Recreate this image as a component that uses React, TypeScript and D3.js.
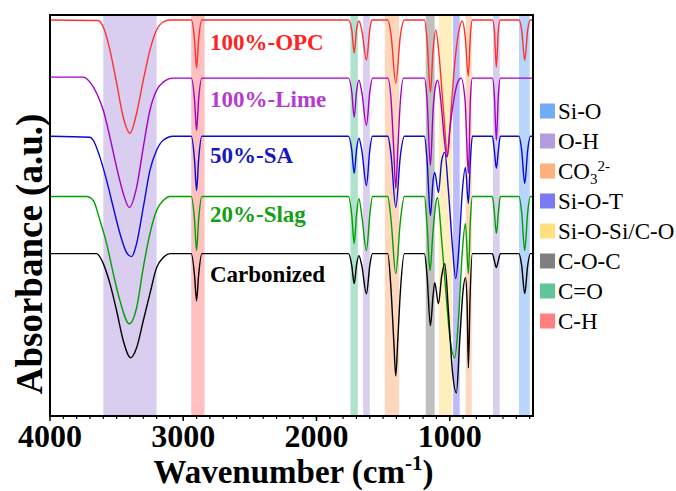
import React from 'react';
import * as d3 from 'd3';

// ---------- data ----------
const xTicks = [4000, 3000, 2000, 1000];
const xMinorTicks = d3.range(3900, 375, -100);

const bandLabels = ['Si-O', 'O-H', 'CO3', 'Si-O-T', 'Si-O-Si/C-O', 'C-O-C', 'C=O', 'C-H'];
const bandColors = ['#72acf8', '#b39ddf', '#ffb07c', '#7c79f4', '#ffdf7e', '#7f7f7f', '#5ec699', '#ff8080'];
const bandRanges: [string, number, number][] = [
  ['O-H', 3600, 3200], ['C-H', 2940, 2840], ['C=O', 1745, 1690], ['O-H', 1650, 1600],
  ['CO3', 1487, 1380], ['C-O-C', 1180, 1113], ['Si-O-Si/C-O', 1083, 983], ['Si-O-T', 975, 925],
  ['CO3', 880, 835], ['O-H', 675, 625], ['Si-O', 480, 400],
];

const seriesNames = ['100%-OPC', '100%-Lime', '50%-SA', '20%-Slag', 'Carbonized'];
const lineColors = ['#ff3030', '#a400c4', '#0a0ad8', '#00a000', '#000000'];
const labelColors = ['#ff2424', '#b43cd2', '#1818c0', '#14a014', '#000000'];

const opc: [number, number][] = [
  [4000, 395], [3640, 394.5], [3600, 388], [3550, 365], [3500, 332], [3450, 298], [3400, 282], [3350, 302],
  [3300, 335], [3250, 365], [3200, 385], [3150, 393], [3100, 395], [2940, 395], [2915, 375], [2900, 347],
  [2885, 375], [2860, 395], [1760, 395], [1735, 385], [1717, 362], [1700, 385], [1682, 394], [1660, 385],
  [1625, 355], [1600, 385], [1585, 395], [1465, 395], [1440, 380], [1405, 332], [1370, 380], [1340, 395],
  [1190, 395], [1170, 375], [1145, 323], [1125, 365], [1105, 385], [1080, 360], [1050, 310], [1015, 260],
  [990, 305], [960, 355], [930, 385], [905, 394], [885, 380], [860, 339], [845, 380], [830, 395],
  [680, 395], [665, 385], [650, 348], [635, 385], [620, 395], [480, 395], [460, 385], [437, 355],
  [415, 385], [395, 395], [375, 395],
];
const lime: [number, number][] = [
  [4000, 338], [3750, 338], [3700, 333], [3650, 322], [3600, 305], [3550, 278], [3500, 248], [3450, 222],
  [3405, 208], [3350, 228], [3300, 268], [3250, 305], [3200, 325], [3150, 333], [3075, 337], [2940, 337],
  [2915, 315], [2900, 285], [2885, 315], [2860, 337], [1760, 337], [1735, 323], [1717, 298], [1700, 323],
  [1682, 335], [1660, 323], [1625, 290], [1600, 323], [1580, 337], [1465, 337], [1440, 315], [1420, 265],
  [1405, 227], [1390, 265], [1370, 315], [1345, 337], [1190, 337], [1170, 315], [1145, 250], [1125, 305],
  [1100, 333], [1090, 335], [1060, 305], [1040, 275], [1020, 258], [1000, 285], [970, 315], [940, 333],
  [915, 337], [885, 315], [860, 242], [845, 315], [830, 337], [680, 337], [665, 320], [650, 275],
  [635, 320], [620, 337], [375, 337],
];
const sa: [number, number][] = [
  [4000, 279], [3700, 278], [3675, 275], [3625, 258], [3575, 235], [3525, 208], [3475, 182], [3425, 163],
  [3387, 159], [3350, 172], [3300, 208], [3250, 245], [3200, 265], [3150, 275], [3075, 279], [2940, 279],
  [2915, 255], [2900, 225], [2885, 255], [2860, 279], [1760, 279], [1735, 265], [1717, 242], [1700, 265],
  [1682, 277], [1660, 265], [1625, 230], [1600, 265], [1580, 279], [1465, 279], [1440, 260], [1405, 208],
  [1370, 260], [1340, 279], [1190, 279], [1170, 255], [1145, 200], [1125, 235], [1112, 243], [1085, 223],
  [1060, 255], [1037, 263], [1010, 225], [980, 170], [955, 137], [930, 170], [905, 225], [882, 248],
  [860, 212], [845, 255], [830, 279], [680, 279], [665, 265], [650, 247], [635, 265], [620, 279],
  [480, 279], [460, 265], [437, 232], [415, 265], [395, 279], [375, 279],
];
const slag: [number, number][] = [
  [4000, 219], [3725, 219], [3675, 215], [3625, 195], [3575, 172], [3525, 142], [3475, 115], [3405, 92],
  [3350, 108], [3300, 148], [3250, 182], [3200, 205], [3150, 215], [3100, 219], [2940, 219], [2915, 195],
  [2900, 165], [2885, 195], [2860, 219], [1760, 219], [1735, 200], [1717, 172], [1700, 200], [1682, 217],
  [1660, 200], [1625, 165], [1600, 200], [1580, 219], [1465, 219], [1440, 195], [1405, 142], [1370, 195],
  [1340, 219], [1190, 219], [1170, 190], [1148, 145], [1125, 185], [1100, 215], [1092, 218], [1060, 175],
  [1030, 125], [1000, 80], [962, 58], [935, 95], [905, 165], [882, 192], [860, 142], [845, 195],
  [830, 219], [680, 219], [665, 203], [650, 182], [635, 203], [620, 219], [480, 219], [460, 203],
  [437, 165], [415, 203], [395, 219], [375, 219],
];
const carbonized: [number, number][] = [
  [4000, 162], [3650, 162], [3600, 152], [3550, 132], [3500, 105], [3450, 75], [3395, 58], [3350, 68],
  [3300, 95], [3250, 122], [3200, 148], [3150, 158], [3100, 162], [2940, 162], [2915, 140], [2900, 115],
  [2885, 140], [2860, 162], [1760, 162], [1735, 150], [1717, 132], [1700, 150], [1682, 160], [1660, 150],
  [1625, 122], [1600, 150], [1580, 162], [1465, 162], [1440, 125], [1420, 75], [1405, 40], [1390, 75],
  [1370, 125], [1340, 162], [1190, 162], [1170, 140], [1145, 90], [1125, 120], [1112, 133], [1085, 112],
  [1060, 140], [1037, 152], [1010, 105], [980, 45], [950, 23], [925, 75], [900, 125], [882, 138],
  [870, 115], [860, 48], [848, 115], [830, 162], [680, 162], [665, 155], [650, 148], [635, 155],
  [620, 162], [480, 162], [460, 150], [437, 122], [415, 150], [395, 162], [375, 162],
];
const seriesData = [opc, lime, sa, slag, carbonized];

// ---------- layout ----------
const W = 676, H = 491;
const M = { left: 50, top: 15, right: 533, bottom: 416 };
const FONT = 'Liberation Serif, Tinos, Times New Roman, Times, serif';

export default function App() {
  const x = d3.scaleLinear().domain([4000, 375]).range([M.left, M.right]);
  const y = d3.scaleLinear().domain([0, 400]).range([M.bottom, M.top]);
  const line = d3.line<[number, number]>()
    .x(d => x(d[0]))
    .y(d => y(d[1]))
    .curve(d3.curveMonotoneX);
  const colorOf = (name: string) => bandColors[bandLabels.indexOf(name)];

  const labelY = [50, 107, 163, 222, 282];
  const legendY0 = 111, legendStep = 30;

  return (
    <svg width={W} height={H} style={{ position: 'absolute', left: 0, top: 0, background: '#fff', fontFamily: FONT }}>
      <rect x={0} y={0} width={W} height={H} fill="#fff" />
      <defs>
        <clipPath id="plotClip">
          <rect x={M.left} y={M.top} width={M.right - M.left} height={M.bottom - M.top} />
        </clipPath>
      </defs>
      {/* bands */}
      <g>
        {bandRanges.map(([name, a, b], i) => (
          <rect key={i} x={x(a)} y={M.top} width={x(b) - x(a)} height={M.bottom - M.top}
            fill={colorOf(name)} fillOpacity={0.5} />
        ))}
      </g>
      {/* spectra */}
      <g clipPath="url(#plotClip)">
        {seriesData.map((d, i) => (
          <path key={i} d={line(d) || ''} fill="none" stroke={lineColors[i]} strokeWidth={1.4} />
        ))}
      </g>
      {/* series labels */}
      {seriesNames.map((n, i) => (
        <text key={n} x={210} y={labelY[i]} fontSize={23} fontWeight="bold" fill={labelColors[i]}>{n}</text>
      ))}
      {/* frame */}
      <rect x={M.left} y={M.top} width={M.right - M.left} height={M.bottom - M.top}
        fill="none" stroke="#000" strokeWidth={2} />
      {/* x ticks */}
      {xMinorTicks.map(t => (
        <line key={'m' + t} x1={x(t)} x2={x(t)} y1={M.bottom} y2={M.bottom + 3} stroke="#000" strokeWidth={1.2} />
      ))}
      {xTicks.map(t => (
        <g key={t}>
          <line x1={x(t)} x2={x(t)} y1={M.bottom} y2={M.bottom + 5} stroke="#000" strokeWidth={1.5} />
          <text x={x(t)} y={447} textAnchor="middle" fontSize={32} fontWeight="bold">{t}</text>
        </g>
      ))}
      {/* axis titles */}
      <text x={293.5} y={483} textAnchor="middle" fontSize={33} fontWeight="bold">
        Wavenumber (cm<tspan fontSize={21} dy={-13}>-1</tspan><tspan dy={13}>)</tspan>
      </text>
      <text transform={`translate(42, 254) rotate(-90)`} textAnchor="middle" fontSize={37} fontWeight="bold">
        Absorbance (a.u.)
      </text>
      {/* legend */}
      {bandLabels.map((n, i) => {
        const cy = legendY0 + i * legendStep;
        return (
          <g key={n}>
            <rect x={540} y={cy - 7.5} width={15} height={15} fill={bandColors[i]} />
            <text x={558} y={cy + 8} fontSize={23}>
              {n === 'CO3' ? (
                <>CO<tspan fontSize={15} dy={5}>3</tspan><tspan fontSize={15} dy={-13}>2-</tspan></>
              ) : n}
            </text>
          </g>
        );
      })}
    </svg>
  );
}
